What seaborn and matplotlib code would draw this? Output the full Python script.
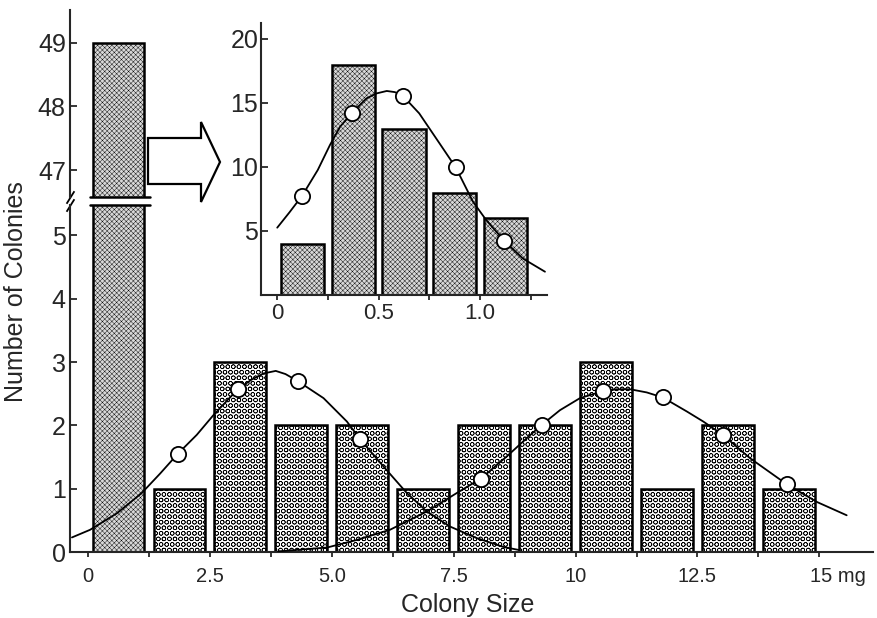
import numpy as np
import matplotlib
matplotlib.use("Agg")
import matplotlib.pyplot as plt
import seaborn as sns
from matplotlib.patches import Polygon
from matplotlib.transforms import ScaledTranslation

# colony size classes (mg, bin centres, 1.25 mg bins) and counts
size_bins = [0.625, 1.875, 3.125, 4.375, 5.625, 6.875, 8.125, 9.375, 10.625, 11.875, 13.125, 14.375]
colony_counts = [49, 1, 3, 2, 2, 1, 2, 2, 3, 1, 2, 1]

# expected frequencies (open circles) of the two fitted normals
exp1_x = [1.84, 3.07, 4.30, 5.57]
exp1_y = [1.55, 2.57, 2.70, 1.79]
exp2_x = [8.06, 9.31, 10.56, 11.79, 13.02, 14.33]
exp2_y = [1.16, 2.01, 2.54, 2.44, 1.85, 1.07]

# fitted curves
curve1_x = [-0.33, 0.04, 0.59, 1.10, 1.48, 1.84, 2.23, 2.57, 3.07, 3.35, 3.60, 3.85, 4.05,
            4.30, 4.83, 5.31, 5.57, 6.06, 6.54, 6.95, 7.43, 7.97, 8.52, 8.85]
curve1_y = [0.23, 0.35, 0.61, 0.93, 1.24, 1.55, 1.85, 2.16, 2.57, 2.72, 2.82, 2.86, 2.81,
            2.70, 2.43, 2.06, 1.79, 1.35, 0.93, 0.64, 0.40, 0.22, 0.08, 0.03]
curve2_x = [3.90, 4.90, 5.51, 6.19, 6.95, 7.56, 8.06, 8.59, 9.03, 9.31, 9.68, 10.09,
            10.56, 10.85, 11.12, 11.46, 11.79, 12.28, 12.62, 13.02, 13.58, 14.33, 14.95, 15.56]
curve2_y = [0.01, 0.07, 0.19, 0.35, 0.64, 0.93, 1.16, 1.51, 1.82, 2.01, 2.24, 2.43,
            2.54, 2.57, 2.57, 2.52, 2.44, 2.22, 2.06, 1.85, 1.48, 1.07, 0.79, 0.58]

# inset: the first size class split into 0.25 mg bins
inset_bins = [0.125, 0.375, 0.625, 0.875, 1.125]
inset_counts = [4, 18, 13, 8, 6]
inset_exp_x = [0.123, 0.37, 0.62, 0.88, 1.12]
inset_exp_y = [7.76, 14.25, 15.55, 9.97, 4.22]
inset_curve_x = [0.0, 0.06, 0.123, 0.20, 0.26, 0.31, 0.37, 0.44, 0.49, 0.54, 0.58, 0.62,
                 0.70, 0.80, 0.88, 0.965, 1.03, 1.12, 1.21, 1.32]
inset_curve_y = [5.26, 6.45, 7.76, 9.77, 11.72, 13.15, 14.25, 15.36, 15.75, 15.94, 15.85, 15.55,
                 14.19, 11.85, 9.97, 7.29, 5.86, 4.22, 2.86, 1.82]

x_labels = ["0", "", "2.5", "", "5.0", "", "7.5", "", "10", "", "12.5", "", "15 mg"]
inset_x_labels = ["0", "", "0.5", "", "1.0", ""]

sns.set_style("ticks")
plt.rcParams["font.family"] = ["Liberation Sans", "DejaVu Sans"]
plt.rcParams["hatch.linewidth"] = 0.45

W, H = 877, 618
fig = plt.figure(figsize=(W / 100, H / 100), dpi=100)
ax_lo = fig.add_axes([70 / W, 1 - 552 / H, 803 / W, 347 / H])
ax_hi = fig.add_axes([70 / W, 1 - 197 / H, 803 / W, 187 / H])
ax_in = fig.add_axes([261 / W, 1 - 295 / H, 286 / W, 272 / H])
for a in (ax_hi, ax_in):
    a.set_facecolor("none")


def draw_bars(ax, x, h, first_style):
    sns.barplot(x=x, y=h, native_scale=True, width=0.85, color="white",
                edgecolor="black", linewidth=1.8, errorbar=None, ax=ax)
    for i, p in enumerate(ax.patches):
        if first_style or i == 0:
            p.set_facecolor("#d8d8d8")
            p.set_hatch("xxxxxxx")
            if hasattr(p, "set_hatch_linewidth"):
                p.set_hatch_linewidth(0.3)
        else:
            p.set_facecolor("white")
            p.set_hatch("OOO")


def draw_fit(ax, cx, cy, px, py):
    sns.lineplot(x=cx, y=cy, color="black", linewidth=1.3, estimator=None,
                 sort=False, ax=ax, zorder=4)
    sns.scatterplot(x=px, y=py, s=120, color="white", edgecolor="black",
                    linewidth=1.3, zorder=5, ax=ax)


# main axes, lower and upper part of the broken y axis
for ax in (ax_lo, ax_hi):
    draw_bars(ax, size_bins, colony_counts, False)
    ax.set_xlim(-0.37, 16.1)
    ax.set_xlabel("")
    ax.set_ylabel("")

draw_fit(ax_lo, curve1_x, curve1_y, exp1_x, exp1_y)
draw_fit(ax_lo, curve2_x, curve2_y, exp2_x, exp2_y)

ax_lo.set_ylim(0, 5.48)
ax_lo.set_yticks(range(0, 6))
ax_lo.set_xticks(np.arange(0, 15.01, 1.25), x_labels)
ax_hi.set_ylim(46.58, 49.51)
ax_hi.set_yticks([47, 48, 49])
ax_hi.set_xticks([])

sns.despine(ax=ax_lo)
sns.despine(ax=ax_hi, bottom=True)
for ax in (ax_lo, ax_hi):
    for s in ("left", "bottom"):
        ax.spines[s].set_linewidth(1.5)
    ax.tick_params(axis="y", direction="in", length=5, width=1.3, labelsize=18, pad=3)
ax_lo.tick_params(axis="x", direction="out", length=3.5, width=1.3, labelsize=14.5, pad=7)

# break lines across the tall bar and slashes on the axis
for ax, yb in ((ax_lo, ax_lo.get_ylim()[1]), (ax_hi, ax_hi.get_ylim()[0])):
    p = ax.patches[0]
    ax.plot([p.get_x() - 0.06, p.get_x() + p.get_width() + 0.12], [yb, yb],
            color="black", lw=1.8, clip_on=False, zorder=6)
ax_lo.plot([0], [1], transform=ax_lo.transAxes, marker=[(-1, -1.6), (1, 1.6)],
           markersize=9, color="black", mew=1.3, clip_on=False)
ax_hi.plot([0], [0], transform=ax_hi.transAxes, marker=[(-1, -1.6), (1, 1.6)],
           markersize=9, color="black", mew=1.3, clip_on=False)

# inset
draw_bars(ax_in, inset_bins, inset_counts, True)
draw_fit(ax_in, inset_curve_x, inset_curve_y, inset_exp_x, inset_exp_y)
ax_in.set_xlim(-0.08, 1.33)
ax_in.set_ylim(0, 21.25)
ax_in.set_yticks([5, 10, 15, 20])
ax_in.set_xticks(np.arange(0, 1.26, 0.25), inset_x_labels)
ax_in.set_xlabel("")
ax_in.set_ylabel("")
sns.despine(ax=ax_in)
for s in ("left", "bottom"):
    ax_in.spines[s].set_linewidth(1.5)
ax_in.tick_params(axis="y", direction="in", length=5, width=1.3, labelsize=18, pad=2)
ax_in.tick_params(axis="x", direction="out", length=3.5, width=1.3, labelsize=16, pad=2)

# block arrow pointing to the inset
arrow_px = [(148, 138), (201, 138), (201, 122), (220, 162), (201, 202), (201, 184), (148, 184)]
fig.add_artist(Polygon([(x / W, 1 - y / H) for x, y in arrow_px], closed=True,
                       transform=fig.transFigure, facecolor="white",
                       edgecolor="black", lw=1.6))

fig.text(16 / W, 1 - 292 / H, "Number of Colonies", rotation=90,
         ha="center", va="center", fontsize=18)
fig.text(468 / W, 1 - 605 / H, "Colony Size", ha="center", va="center", fontsize=18)

lab = ax_lo.get_xticklabels()[-1]
lab.set_horizontalalignment("left")
lab.set_transform(lab.get_transform() + ScaledTranslation(-9 / 100, 0, fig.dpi_scale_trans))

fig.savefig("out.png", dpi=100)
